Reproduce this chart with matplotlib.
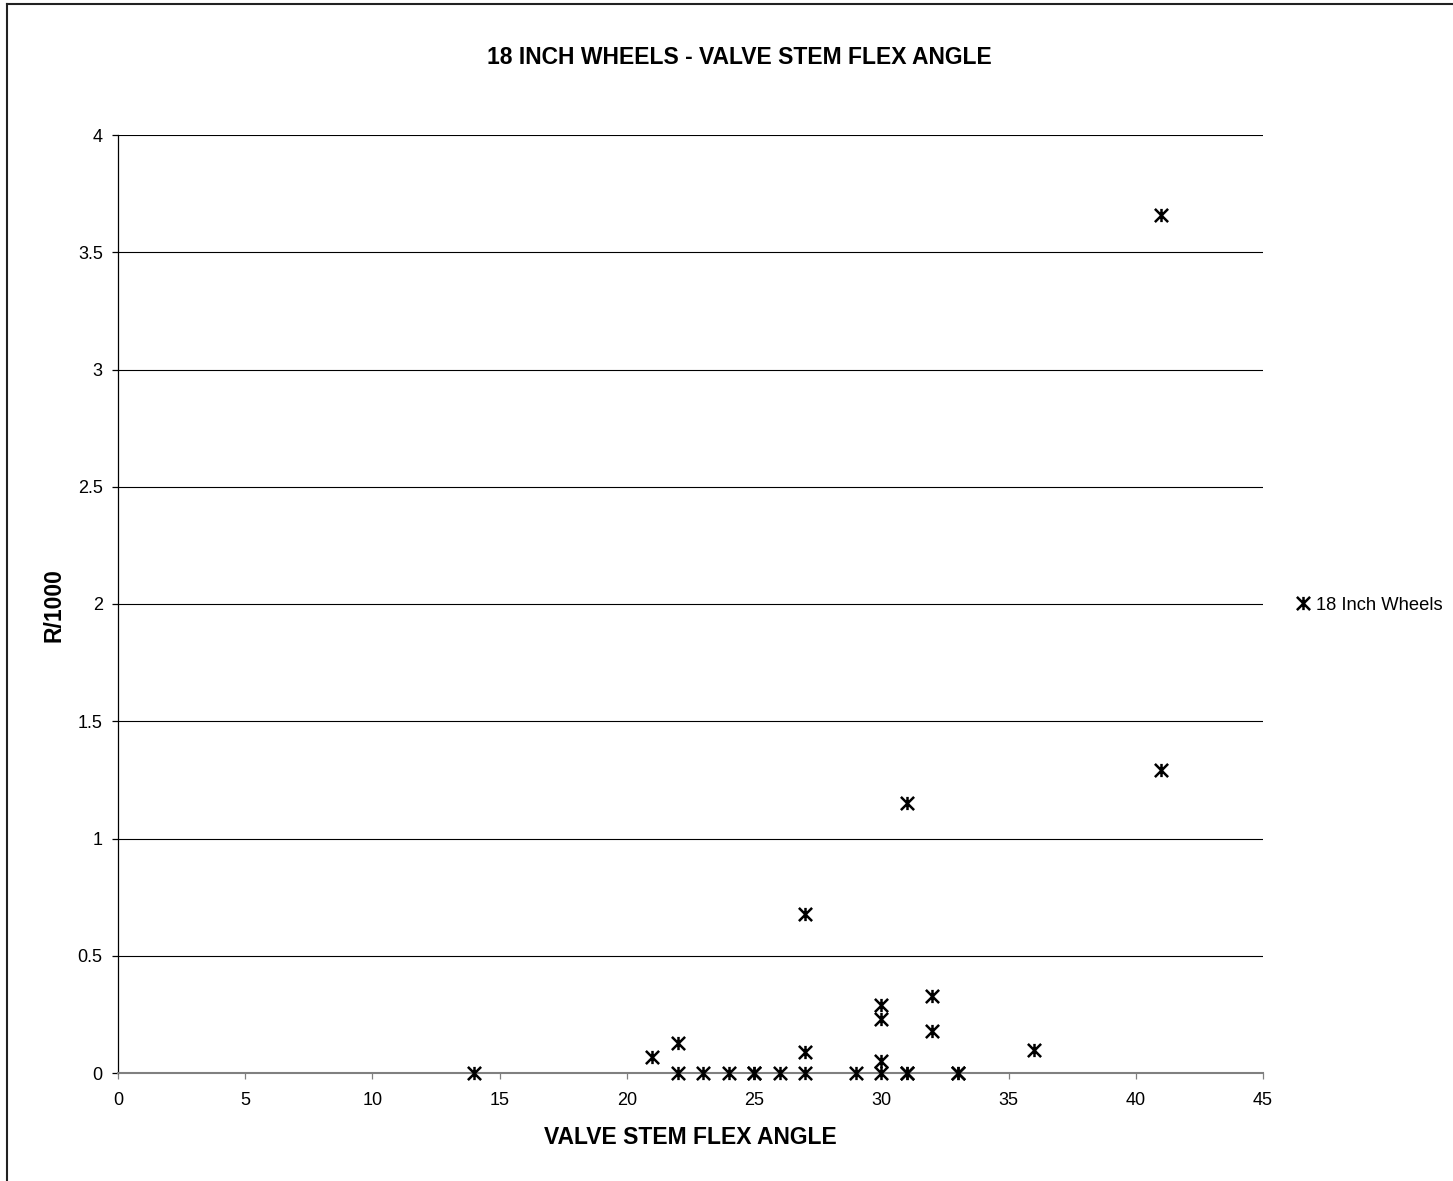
import matplotlib
matplotlib.use("Agg")
import matplotlib.pyplot as plt
from matplotlib.path import Path
from matplotlib.lines import Line2D

plt.rcParams['font.family'] = ['Liberation Sans', 'DejaVu Sans']

flex_angle = [14, 21, 22, 22, 23, 24, 25, 25, 26, 27, 27, 27, 29, 30, 30, 30, 30,
              31, 31, 31, 32, 32, 33, 33, 36, 41, 41]
r_per_1000 = [0, 0.07, 0.13, 0, 0, 0, 0, 0, 0, 0, 0.09, 0.68, 0, 0, 0.05, 0.23, 0.29,
              0, 0, 1.15, 0.33, 0.18, 0, 0, 0.10, 1.29, 3.66]
series_name = "18 Inch Wheels"
title = "18 INCH WHEELS - VALVE STEM FLEX ANGLE"
xlabel = "VALVE STEM FLEX ANGLE"
ylabel = "R/1000"
xticks = [0, 5, 10, 15, 20, 25, 30, 35, 40, 45]
yticks = [0, 0.5, 1, 1.5, 2, 2.5, 3, 3.5, 4]
ytick_labels = ["0", "0.5", "1", "1.5", "2", "2.5", "3", "3.5", "4"]

W, H = 1453, 1181
fig = plt.figure(figsize=(W / 100, H / 100), dpi=100)
ax = fig.add_axes([118 / W, 1 - 1073 / H, (1263 - 118) / W, (1073 - 135) / H])

star = Path([(-1, -1), (1, 1), (-1, 1), (1, -1), (0, -1), (0, 1)],
            [Path.MOVETO, Path.LINETO, Path.MOVETO, Path.LINETO, Path.MOVETO, Path.LINETO])

for y in yticks[1:]:
    ax.axhline(y, color='black', linewidth=0.8, zorder=1)

ax.plot(flex_angle, r_per_1000, linestyle='none', marker=star, markersize=9.5,
        markeredgewidth=1.8, color='black', label=series_name, zorder=3, clip_on=False)

ax.set_xlim(0, 45)
ax.set_ylim(0, 4)
ax.set_xticks(xticks)
ax.set_yticks(yticks)
ax.set_yticklabels(ytick_labels)
for s in ['top', 'right']:
    ax.spines[s].set_visible(False)
ax.spines['left'].set_color('black')
ax.spines['left'].set_linewidth(0.9)
ax.spines['bottom'].set_color('#808080')
ax.spines['bottom'].set_linewidth(1.5)
ax.tick_params(axis='y', direction='out', length=4, width=0.9, color='black',
               labelsize=13, pad=7)
ax.tick_params(axis='x', direction='out', length=4, width=0.9, color='#808080',
               labelsize=13, pad=10)

fig.text(739 / W, 1 - 58 / H, title, ha='center', va='center', fontsize=16.5,
         fontweight='bold')
fig.text(690.5 / W, 1 - 1137 / H, xlabel, ha='center', va='center', fontsize=16.5,
         fontweight='bold')
fig.text(54 / W, 1 - 605 / H, ylabel, ha='center', va='center', fontsize=16.5,
         fontweight='bold', rotation=90)

leg = fig.legend(loc='center left', bbox_to_anchor=(1296 / W, 1 - 605 / H),
                 frameon=False, fontsize=13.2, handlelength=0.8, handletextpad=0.3,
                 borderpad=0, borderaxespad=0)

fig.add_artist(Line2D([7 / W, 7 / W], [-0.01, 1 - 4 / H], transform=fig.transFigure,
                      color='#222222', linewidth=1.5))
fig.add_artist(Line2D([7 / W, 1.01], [1 - 4 / H, 1 - 4 / H], transform=fig.transFigure,
                      color='#222222', linewidth=1.5))

fig.savefig("out.png", dpi=100)
